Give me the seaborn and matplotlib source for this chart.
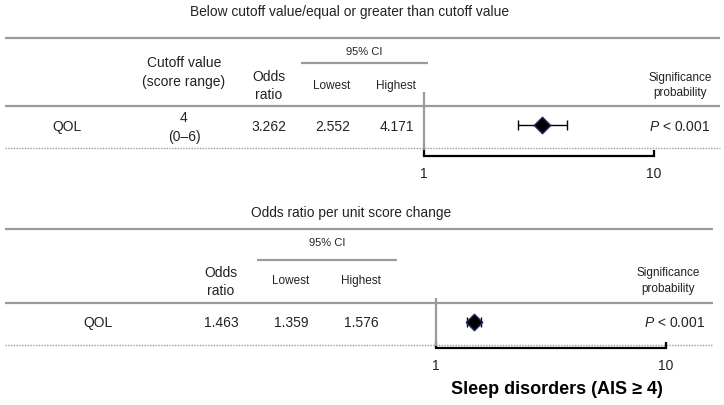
import matplotlib
matplotlib.use("Agg")
import matplotlib.pyplot as plt
import seaborn as sns
import pandas as pd

# dados
variaveis = ["QOL"]
cutoff_valor = ["4"]
cutoff_faixa = ["(0–6)"]
or_cutoff = [3.262]
ic_baixo_cutoff = [2.552]
ic_alto_cutoff = [4.171]
or_unidade = [1.463]
ic_baixo_unidade = [1.359]
ic_alto_unidade = [1.576]
p_cutoff = ["< 0.001"]
p_unidade = ["< 0.001"]
ticks_x = [1, 10]

sns.set_theme(style="white")
plt.rcParams["font.family"] = ["Liberation Sans", "DejaVu Sans"]
plt.rcParams["mathtext.fontset"] = "custom"
plt.rcParams["mathtext.it"] = "Liberation Sans:italic"
plt.rcParams["mathtext.rm"] = "Liberation Sans"

W, H = 724, 405
fig = plt.figure(figsize=(W / 100, H / 100), dpi=100)

# eixo de fundo em pixels para a tabela
bg = fig.add_axes([0, 0, 1, 1])
bg.set_xlim(0, W)
bg.set_ylim(H, 0)
bg.axis("off")

cinza = "#9a9a9a"
txt = "#222222"


def regua(y, x0, x1, estilo="-"):
    if estilo == "-":
        bg.plot([x0, x1], [y, y], color=cinza, lw=1.6, solid_capstyle="butt")
    else:
        bg.plot([x0, x1], [y, y], color=cinza, lw=1.0, ls=(0, (1, 1)))


def forest(left, bottom, top, row_y, df, vtop):
    ax = fig.add_axes([left / W, 1 - bottom / H, 230 / W, (bottom - top) / H])
    ax.set_xscale("log")
    ax.set_xlim(1, 10)
    ax.set_ylim(-(bottom - row_y), row_y - top)
    ax.patch.set_alpha(0)
    for s in ["top", "right", "left"]:
        ax.spines[s].set_visible(False)
    ax.spines["bottom"].set_color("black")
    ax.spines["bottom"].set_linewidth(1.6)
    ax.vlines(1, -(bottom - row_y) + vtop, row_y - top, color=cinza, lw=1.6, clip_on=False)
    ax.errorbar(df["or"], df["y"], xerr=[df["or"] - df["lo"], df["hi"] - df["or"]],
                fmt="none", ecolor="black", elinewidth=1.0, capsize=3.5, capthick=1.0)
    sns.scatterplot(data=df, x="or", y="y", marker="D", s=70, color="black",
                    edgecolor="#1f2a5a", linewidth=1.0, ax=ax, zorder=3, legend=False)
    ax.set_xticks(ticks_x)
    ax.set_xticks([], minor=True)
    ax.set_xticklabels([str(t) for t in ticks_x], fontsize=10, color=txt)
    ax.tick_params(axis="x", which="major", bottom=True, direction="in", length=4,
                   width=1.6, pad=8, color="black")
    ax.set_yticks([])
    ax.set_xlabel("")
    ax.set_ylabel("")
    return ax


# ---------- painel superior ----------
bg.text(349, 12, "Below cutoff value/equal or greater than cutoff value",
        ha="center", va="center", fontsize=9.9, color=txt)
regua(38, 5, 720)
bg.text(364, 52, "95% CI", ha="center", va="center", fontsize=8, color=txt)
regua(63, 301, 428)
bg.text(184, 63, "Cutoff value", ha="center", va="center", fontsize=10, color=txt)
bg.text(184, 82, "(score range)", ha="center", va="center", fontsize=10, color=txt)
bg.text(269, 77, "Odds", ha="center", va="center", fontsize=10, color=txt)
bg.text(269, 95, "ratio", ha="center", va="center", fontsize=10, color=txt)
bg.text(332, 86, "Lowest", ha="center", va="center", fontsize=8.5, color=txt)
bg.text(396, 86, "Highest", ha="center", va="center", fontsize=8.5, color=txt)
bg.text(680, 78, "Significance", ha="center", va="center", fontsize=8.5, color=txt)
bg.text(680, 93, "probability", ha="center", va="center", fontsize=8.5, color=txt)
regua(106, 5, 720)
for i, v in enumerate(variaveis):
    y = 127 + i * 40
    bg.text(67, y, v, ha="center", va="center", fontsize=10, color=txt)
    bg.text(184, y - 9, cutoff_valor[i], ha="center", va="center", fontsize=10, color=txt)
    bg.text(184, y + 10, cutoff_faixa[i], ha="center", va="center", fontsize=10, color=txt)
    bg.text(269, y, f"{or_cutoff[i]:.3f}", ha="center", va="center", fontsize=10, color=txt)
    bg.text(333, y, f"{ic_baixo_cutoff[i]:.3f}", ha="center", va="center", fontsize=10, color=txt)
    bg.text(397, y, f"{ic_alto_cutoff[i]:.3f}", ha="center", va="center", fontsize=10, color=txt)
    bg.text(710, y, "$P$ " + p_cutoff[i], ha="right", va="center", fontsize=10, color=txt)
regua(148, 5, 720, ":")

df_top = pd.DataFrame({"or": or_cutoff, "lo": ic_baixo_cutoff, "hi": ic_alto_cutoff,
                       "y": [0] * len(or_cutoff)})
forest(424, 156, 92, 125, df_top, 6)

# ---------- painel inferior ----------
bg.text(351, 213, "Odds ratio per unit score change",
        ha="center", va="center", fontsize=9.9, color=txt)
regua(229, 5, 713)
bg.text(327, 243, "95% CI", ha="center", va="center", fontsize=8, color=txt)
regua(260, 257, 397)
bg.text(221, 273, "Odds", ha="center", va="center", fontsize=10, color=txt)
bg.text(221, 291, "ratio", ha="center", va="center", fontsize=10, color=txt)
bg.text(291, 281, "Lowest", ha="center", va="center", fontsize=8.5, color=txt)
bg.text(361, 281, "Highest", ha="center", va="center", fontsize=8.5, color=txt)
bg.text(668, 273, "Significance", ha="center", va="center", fontsize=8.5, color=txt)
bg.text(668, 289, "probability", ha="center", va="center", fontsize=8.5, color=txt)
regua(303, 5, 713)
for i, v in enumerate(variaveis):
    y = 323 + i * 40
    bg.text(98, y, v, ha="center", va="center", fontsize=10, color=txt)
    bg.text(221, y, f"{or_unidade[i]:.3f}", ha="center", va="center", fontsize=10, color=txt)
    bg.text(291, y, f"{ic_baixo_unidade[i]:.3f}", ha="center", va="center", fontsize=10, color=txt)
    bg.text(361, y, f"{ic_alto_unidade[i]:.3f}", ha="center", va="center", fontsize=10, color=txt)
    bg.text(705, y, "$P$ " + p_unidade[i], ha="right", va="center", fontsize=10, color=txt)
regua(345, 5, 713, ":")

df_bot = pd.DataFrame({"or": or_unidade, "lo": ic_baixo_unidade, "hi": ic_alto_unidade,
                       "y": [0] * len(or_unidade)})
forest(436, 348, 298, 322, df_bot, 2)

bg.text(557, 390, "Sleep disorders (AIS ≥ 4)", ha="center", va="center",
        fontsize=13, fontweight="bold", color="black")

fig.savefig("out.png", dpi=100)
